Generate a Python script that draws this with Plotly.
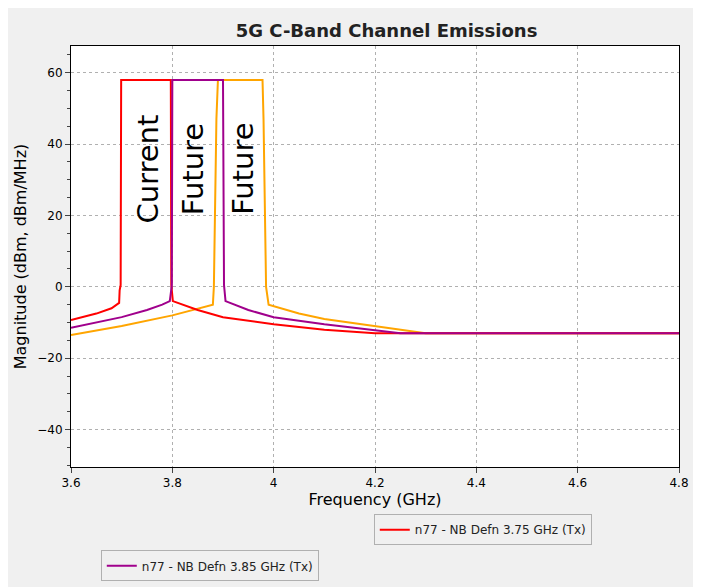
import plotly.graph_objects as go

red_x = [3.6, 3.65, 3.68, 3.695, 3.696, 3.698, 3.699, 3.7, 3.797, 3.798, 3.8, 3.801, 3.85, 3.9, 4.0, 4.1, 4.2, 4.8]
red_y = [-9.3, -7.5, -6, -4.5, -1, 0.5, 58, 58, 58, 0.5, -3, -4, -6.5, -8.5, -10.5, -12, -13, -13]
pur_x = [3.6, 3.7, 3.75, 3.78, 3.795, 3.797, 3.799, 3.8, 3.9, 3.902, 3.903, 3.905, 3.95, 4.0, 4.1, 4.25, 4.8]
pur_y = [-11.5, -8.5, -6.5, -5, -4, -1, 0.5, 58, 58, 0.5, -1, -4, -6.5, -8.5, -10.5, -13, -13]
ora_x = [3.6, 3.7, 3.8, 3.85, 3.88, 3.882, 3.884, 3.887, 3.89, 3.978, 3.98, 3.983, 3.985, 3.99, 4.05, 4.1, 4.2, 4.3, 4.8]
ora_y = [-13.5, -11, -8, -6, -5, 0, 20, 47, 58, 58, 47, 20, 0, -5, -7.5, -9, -11, -13, -13]
names = ["n77 - High Channel 3.94 GHz (Tx)", "n77 - NB Defn 3.75 GHz (Tx)", "n77 - NB Defn 3.85 GHz (Tx)"]

fig = go.Figure()
fig.add_trace(go.Scatter(x=ora_x, y=ora_y, mode="lines", name=names[0], line=dict(color="#FFA500", width=2), legend="legend"))
fig.add_trace(go.Scatter(x=red_x, y=red_y, mode="lines", name=names[1], line=dict(color="#FF0000", width=2), legend="legend2"))
fig.add_trace(go.Scatter(x=pur_x, y=pur_y, mode="lines", name=names[2], line=dict(color="#A0008C", width=2), legend="legend3"))

for txt, x in [("Current", 3.753), ("Future", 3.841), ("Future", 3.939)]:
    fig.add_annotation(x=x, y=33, text=txt, textangle=-90, showarrow=False,
                       font=dict(size=29, color="black", family="DejaVu Sans"))

lg = dict(orientation="h", bgcolor="#f0f0f0", bordercolor="#b0b0b0", borderwidth=1,
          font=dict(size=12, family="DejaVu Sans", color="#222"), xanchor="left", yanchor="top",
          xref="paper", yref="paper")
fig.update_layout(
    width=701, height=587, paper_bgcolor="#f0f0f0", plot_bgcolor="white",
    margin=dict(l=59, r=30, t=38, b=128),
    title=dict(text="<b>5G C-Band Channel Emissions</b>", x=0.54, y=0.972, xanchor="center",
               font=dict(size=18, family="DejaVu Sans", color="#222")),
    xaxis=dict(range=[3.6, 4.8], dtick=0.2, showgrid=True, gridcolor="#b0b0b0", griddash="dot",
               zeroline=False, showline=True, linecolor="black", ticks="outside", mirror=True,
               title=dict(text="Frequency (GHz)", font=dict(size=16, family="DejaVu Sans", color="black"), standoff=4),
               tickfont=dict(size=12, family="DejaVu Sans", color="black")),
    yaxis=dict(range=[-50.5, 67.5], dtick=20, showgrid=True, gridcolor="#b0b0b0", griddash="dot",
               zeroline=False, showline=True, linecolor="black", ticks="outside", mirror=True,
               minor=dict(dtick=5, ticks="outside", ticklen=3),
               title=dict(text="Magnitude (dBm, dBm/MHz)", font=dict(size=16, family="DejaVu Sans", color="black"), standoff=6),
               tickfont=dict(size=12, family="DejaVu Sans", color="black")),
    legend=dict(lg, x=0.049, y=-0.112),
    legend2=dict(lg, x=0.498, y=-0.112),
    legend3=dict(lg, x=0.049, y=-0.198),
)
fig.write_html("out.html")
